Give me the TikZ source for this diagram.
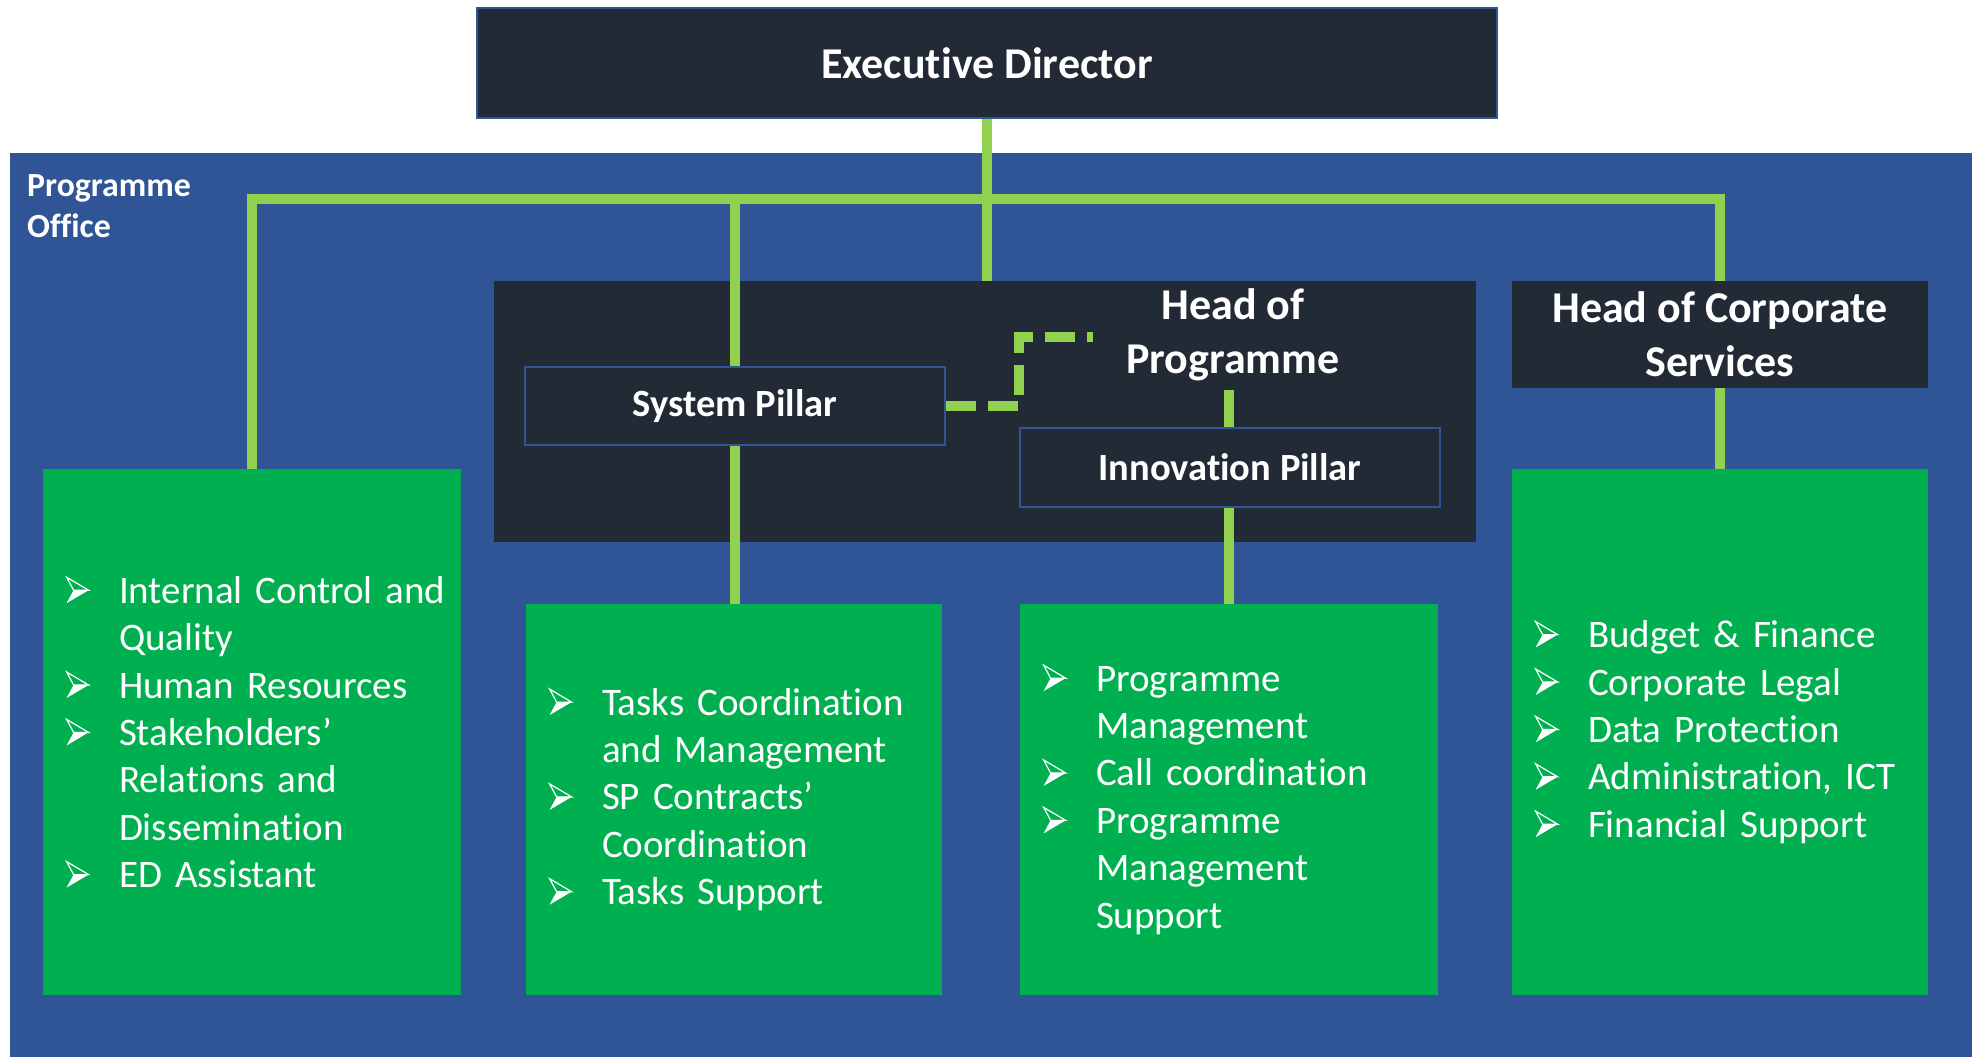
\documentclass[tikz,border=0pt]{standalone}
\usepackage{fontspec}
\setmainfont{Carlito}[Ligatures={NoCommon}]
\definecolor{bgblue}{HTML}{2F5597}
\definecolor{darkbg}{HTML}{222A35}
\definecolor{boxgreen}{HTML}{00B050}
\definecolor{linegreen}{HTML}{92D050}
\newcommand\bul{\tikz[x=1pt,y=1pt,baseline=0pt]{%
  \fill[white] (0,0)--(22,13)--(7,13)--cycle;
  \draw[white,line width=1.2pt,line join=miter] (7,13)--(22,13)--(0,26)--cycle;}}
\newcommand\bl{\makebox[76pt][l]{\hspace*{23pt}\bul}}
\newcommand\ind{\hspace*{76pt}}
\pgfdeclarelayer{bglayer}
\pgfdeclarelayer{midlayer}
\pgfsetlayers{bglayer,midlayer,main}
\tikzset{
  darkbox/.style={fill=darkbg, draw=bgblue, line width=2pt, inner sep=0pt, text=white,
    font=\fontsize{44}{54}\selectfont\bfseries, align=center},
  pillar/.style={fill=darkbg, draw=bgblue, line width=2pt, inner sep=0pt, text=white,
    font=\fontsize{38.5}{46}\selectfont\bfseries, align=center},
  greenbox/.style={fill=boxgreen, inner sep=0pt},
  bodytext/.style={inner sep=0pt, text=white, align=left,
    font=\fontsize{39}{47.4}\selectfont},
  conn/.style={draw=linegreen, line width=10pt, line join=miter},
  hdr/.style={inner sep=0pt, text=white, align=center,
    font=\fontsize{44}{54}\selectfont\bfseries}
}
\begin{document}
\begin{tikzpicture}[x=1pt,y=-1pt]
\useasboundingbox (0,0) rectangle (1972,1057);
\begin{pgfonlayer}{bglayer}
\fill[white] (0,0) rectangle (1972,1057);
\fill[bgblue] (10,153) rectangle (1972,1057);
\node[fill=darkbg, inner sep=0pt, minimum width=982pt, minimum height=261pt] (hop) at (985,411.5) {};
\end{pgfonlayer}
\node[inner sep=0pt, text=white, align=left, anchor=west,
  font=\fontsize{33.8}{41.5}\selectfont\bfseries] (po) at (27,206) {Programme\\Office};

\node[hdr] (hoptext) at (1233,335) {Head of\\Programme};
\coordinate (hopb) at (1229,390);
\coordinate (bus) at (0,199);
\coordinate (dashend) at (1093,337);

\node[darkbox, minimum width=1020pt, minimum height=110pt] (ed) at (987,63) {Executive Director};
\node[pillar, minimum width=420pt, minimum height=78pt] (sysp) at (735,406) {System Pillar};
\node[pillar, minimum width=420pt, minimum height=79pt] (innp) at (1230,467.5) {Innovation Pillar};
\node[hdr, fill=darkbg, minimum width=416pt, minimum height=107pt] (hocs) at (1720,334.5) {Head of Corporate\\Services};
\node[greenbox, minimum width=418pt, minimum height=526pt] (g1) at (252,732) {};
\node[greenbox, minimum width=416pt, minimum height=391pt] (g2) at (734,799.5) {};
\node[greenbox, minimum width=418pt, minimum height=391pt] (g3) at (1229,799.5) {};
\node[greenbox, minimum width=416pt, minimum height=526pt] (g4) at (1720,732) {};

\begin{pgfonlayer}{midlayer}
\draw[conn] (ed.south) -- (ed.south |- hop.north);
\draw[conn] (g1.north) -- (g1.north |- bus) -- (hocs.north |- bus) -- (hocs.north);
\draw[conn] (sysp.north |- bus) -- (sysp.north);
\draw[conn] (sysp.south) -- (sysp.south |- g2.north);
\draw[conn] (hocs.south) -- (g4.north);
\draw[conn] (hopb) -- (hopb |- innp.north);
\draw[conn] (innp.south -| hopb) -- (hopb |- g3.north);
\draw[conn, dash pattern=on 30pt off 12pt] (sysp.east) -- (sysp.east -| innp.west) -- (innp.west |- dashend) -- (dashend);
\end{pgfonlayer}

\node[bodytext, text width=418pt, anchor=west] (g1t) at (g1.west) {%
\bl Internal Control and\\ \ind Quality\\ \bl Human Resources\\ \bl Stakeholders’\\ \ind Relations and\\ \ind Dissemination\\ \bl ED Assistant};
\node[bodytext, text width=416pt, anchor=west] (g2t) at (g2.west) {%
\bl Tasks Coordination\\ \ind and Management\\ \bl SP Contracts’\\ \ind Coordination\\ \bl Tasks Support};
\node[bodytext, text width=418pt, anchor=west] (g3t) at (g3.west) {%
\bl Programme\\ \ind Management\\ \bl Call coordination\\ \bl Programme\\ \ind Management\\ \ind Support};
\node[bodytext, text width=416pt, anchor=west] (g4t) at (g4.west) {%
\bl Budget \& Finance\\ \bl Corporate Legal\\ \bl Data Protection\\ \bl Administration, ICT\\ \bl Financial Support};
\end{tikzpicture}
\end{document}
